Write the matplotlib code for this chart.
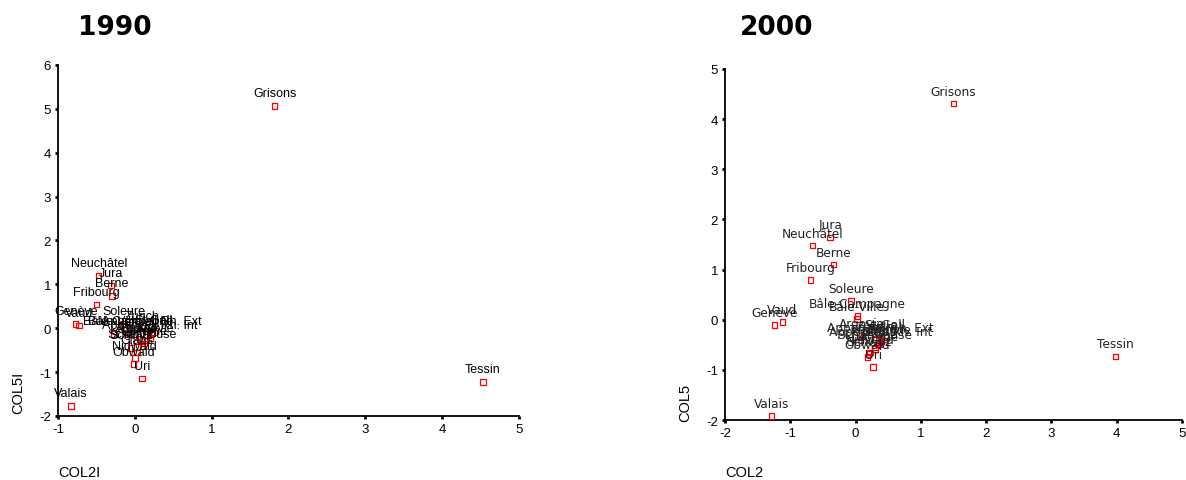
import matplotlib
matplotlib.use('Agg')
import matplotlib.pyplot as plt

plt.rcParams['axes.unicode_minus'] = False

# canton names (same order for both years)
cantons = ['Zurich', 'Berne', 'Lucerne', 'Uri', 'Schwyz', 'Obwald', 'Nidwald',
           'Glaris', 'Zoug', 'Fribourg', 'Soleure', 'Bâle-Ville', 'Bâle-Campagne',
           'Schaffhouse', 'Appenzell Rh. Ext', 'Appenzell Rh. Int', 'St-Gall',
           'Grisons', 'Argovie', 'Thurgovie', 'Tessin', 'Vaud', 'Valais',
           'Neuchâtel', 'Genève', 'Jura']

# 1990 scores
col2i = [0.10, -0.30, 0.12, 0.09, -0.05, -0.02, 0.00, 0.03, 0.08, -0.50, -0.14,
         -0.27, -0.09, 0.10, 0.22, 0.20, 0.25, 1.82, 0.02, 0.15, 4.53, -0.73,
         -0.83, -0.47, -0.77, -0.31]
col5i = [0.00, 0.74, -0.35, -1.15, -0.45, -0.82, -0.68, -0.55, -0.25, 0.54, 0.10,
         -0.13, -0.13, -0.42, -0.12, -0.22, -0.10, 5.07, -0.30, -0.28, -1.22, 0.06,
         -1.77, 1.20, 0.10, 0.97]

# 2000 scores
col2 = [0.30, -0.34, 0.30, 0.27, 0.20, 0.18, 0.22, 0.35, 0.40, -0.69, -0.07,
        0.02, 0.03, 0.30, 0.38, 0.38, 0.45, 1.50, 0.10, 0.38, 3.98, -1.12,
        -1.29, -0.66, -1.24, -0.39]
col5 = [-0.38, 1.10, -0.58, -0.94, -0.68, -0.74, -0.65, -0.48, -0.43, 0.79, 0.37,
        0.01, 0.07, -0.55, -0.40, -0.48, -0.34, 4.31, -0.33, -0.45, -0.73, -0.05,
        -1.92, 1.48, -0.11, 1.64]

fig = plt.figure(figsize=(11.86, 4.81), dpi=100)

panels = [
    dict(rect=[0.0489, 0.1331, 0.3887, 0.7297], x=col2i, y=col5i,
         xlim=(-1, 5), ylim=(-2, 6), font='Liberation Sans', fs=9, tc='black',
         title='1990', tx=78, xl='COL2I', xlx=58, yl='COL5I', ylx=18, yly=393),
    dict(rect=[0.6113, 0.1247, 0.3853, 0.7298], x=col2, y=col5,
         xlim=(-2, 5), ylim=(-2, 5), font='DejaVu Sans', fs=8.7, tc='#222222',
         title='2000', tx=740, xl='COL2', xlx=725, yl='COL5', ylx=685, yly=403),
]

for p in panels:
    ax = fig.add_axes(p['rect'])
    ax.scatter(p['x'], p['y'], marker='s', s=16, facecolors='none',
               edgecolors='red', linewidths=0.9, zorder=3)
    for name, xv, yv in zip(cantons, p['x'], p['y']):
        ax.annotate(name, (xv, yv), xytext=(0, 9), textcoords='offset points',
                    ha='center', va='center', fontsize=p['fs'],
                    family=p['font'], color=p['tc'], zorder=4)
    ax.set_xlim(*p['xlim'])
    ax.set_ylim(*p['ylim'])
    ax.set_xticks(range(p['xlim'][0], p['xlim'][1] + 1))
    ax.set_yticks(range(p['ylim'][0], p['ylim'][1] + 1))
    for s in ['top', 'right']:
        ax.spines[s].set_visible(False)
    for s in ['left', 'bottom']:
        ax.spines[s].set_linewidth(1.3)
    ax.tick_params(length=2, width=2, pad=3, labelsize=9.5)
    for lab in ax.get_xticklabels() + ax.get_yticklabels():
        lab.set_family('Liberation Sans')

    fig.text(p['tx'] / 1186, 1 - 28 / 481, p['title'], fontsize=19,
             fontweight='bold', family='DejaVu Sans', va='center', ha='left')
    fig.text(p['xlx'] / 1186, 1 - 473 / 481, p['xl'], fontsize=10.5,
             family='Liberation Sans', va='center', ha='left')
    fig.text(p['ylx'] / 1186, 1 - p['yly'] / 481, p['yl'], fontsize=10.5,
             family='Liberation Sans', va='center', ha='center', rotation=90)

fig.savefig('out.png', dpi=100)
